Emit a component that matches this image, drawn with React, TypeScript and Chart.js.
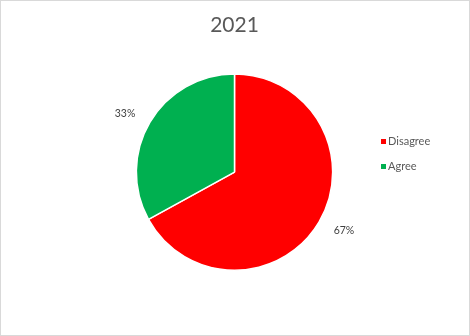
import React, { useEffect, useRef } from "react";
import { Chart, registerables } from "chart.js";

Chart.register(...registerables);

const titleText = "2021";
const categories = ["Disagree", "Agree"];
const values = [67, 33];
const colors = ["#FF0000", "#00B050"];

const FONT = "Lato, 'Open Sans', sans-serif";

const pieLabels = {
  id: "pieLabels",
  afterDatasetsDraw(chart: any) {
    const meta = chart.getDatasetMeta(0);
    const ctx = chart.ctx;
    const total = values.reduce((a, b) => a + b, 0);
    ctx.save();
    ctx.font = `10.5px ${FONT}`;
    ctx.fillStyle = "#404040";
    ctx.textAlign = "center";
    ctx.textBaseline = "middle";
    meta.data.forEach((arc: any, i: number) => {
      const { x, y, startAngle, endAngle, outerRadius } = arc.getProps(
        ["x", "y", "startAngle", "endAngle", "outerRadius"],
        true
      );
      const mid = (startAngle + endAngle) / 2;
      const tx = x + Math.cos(mid) * (outerRadius + 29);
      const ty = y + Math.sin(mid) * (outerRadius + 16);
      ctx.fillText(Math.round((values[i] / total) * 100) + "%", tx, ty);
    });
    ctx.restore();
  },
};

const sideLegend = {
  id: "sideLegend",
  afterDraw(chart: any) {
    const ctx = chart.ctx;
    ctx.save();
    ctx.font = `11px ${FONT}`;
    ctx.textBaseline = "middle";
    ctx.textAlign = "left";
    categories.forEach((c, i) => {
      const yy = 140.5 + i * 25;
      ctx.fillStyle = colors[i];
      ctx.fillRect(380, yy - 2.5, 5, 5);
      ctx.fillStyle = "#595959";
      ctx.fillText(c, 387, yy);
    });
    ctx.restore();
  },
};

export default function App() {
  const ref = useRef<HTMLCanvasElement>(null);
  useEffect(() => {
    const chart = new Chart(ref.current as HTMLCanvasElement, {
      type: "pie",
      data: {
        labels: categories,
        datasets: [
          {
            data: values,
            backgroundColor: colors,
            borderColor: "#FFFFFF",
            borderWidth: 1.5,
          },
        ],
      },
      options: {
        animation: false,
        responsive: false,
        layout: { padding: { top: 0, bottom: 64, left: 0, right: 1 } },
        plugins: {
          legend: { display: false },
          tooltip: { enabled: false },
          title: {
            display: true,
            text: titleText,
            color: "#595959",
            font: { family: FONT, size: 21, weight: "normal" },
            padding: { top: 12, bottom: 35 },
          },
        },
      },
      plugins: [pieLabels, sideLegend],
    });
    return () => chart.destroy();
  }, []);
  return (
    <div
      style={{
        position: "fixed",
        left: 0,
        top: 0,
        width: 470,
        height: 336,
        boxSizing: "border-box",
        border: "1px solid #D9D9D9",
        background: "#FFFFFF",
      }}
    >
      <canvas ref={ref} width={468} height={334} style={{ display: "block" }} />
    </div>
  );
}
